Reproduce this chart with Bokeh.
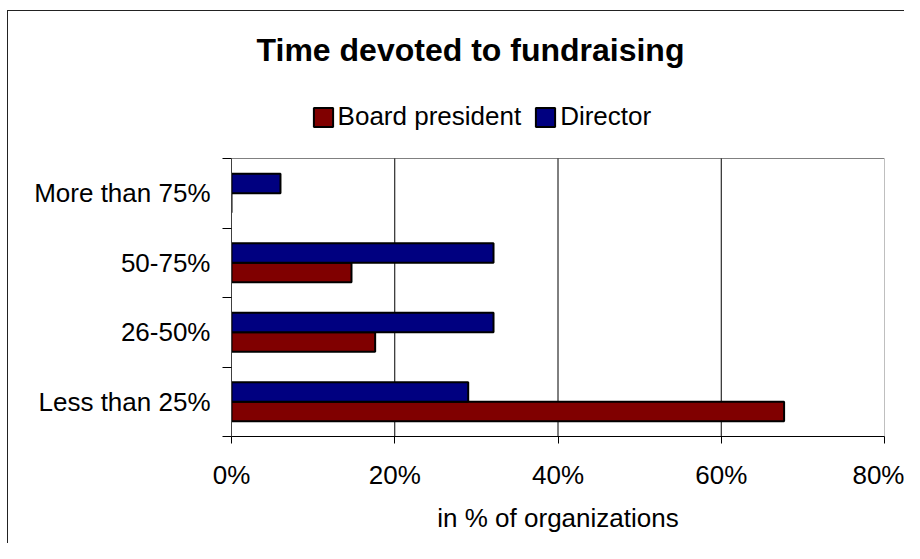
from bokeh.plotting import figure
from bokeh.models import (Range1d, FixedTicker, PrintfTickFormatter, Legend, LegendItem,
                          Label, ColumnDataSource)
from bokeh.embed import file_html
from bokeh.resources import INLINE

# ---- data ----
categories = ["Less than 25%", "26-50%", "50-75%", "More than 75%"]
board_president = [67.7, 17.6, 14.7, 0.0]
director = [29.0, 32.1, 32.1, 6.0]
x_ticks = [0, 20, 40, 60, 80]
series_names = ["Board president", "Director"]
series_colors = ["#800000", "#000080"]
title_text = "Time devoted to fundraising"
x_label = "in % of organizations"

FONT = "Liberation Sans"
W, H = 904, 543
AREA_TOP, AREA_BOTTOM = 158, 436          # pixel rows of the plotting area
n = len(categories)
# the frame extends up to the top of the figure so that title & legend sit inside it
y_top = n * AREA_BOTTOM / (AREA_BOTTOM - AREA_TOP)

p = figure(width=W, height=H, output_backend="svg", toolbar_location=None,
           title_location=None,
           x_range=Range1d(x_ticks[0], x_ticks[-1]), y_range=Range1d(0, y_top),
           min_border_left=231, min_border_right=20, min_border_top=0,
           min_border_bottom=H - AREA_BOTTOM)
p.styles = {"background": "linear-gradient(#222,#222) 7px 10px / 1px 100% no-repeat, "
                          "linear-gradient(#222,#222) 7px 10px / 100% 1px no-repeat, white"}
p.background_fill_alpha = 0
p.border_fill_alpha = 0
p.outline_line_color = None

# plotting-area box and gridlines
p.quad(left=[x_ticks[0]], right=[x_ticks[-1]], bottom=[0], top=[n],
       fill_color=None, line_color="#808080", line_width=1)
p.segment(x0=x_ticks[1:-1], x1=x_ticks[1:-1], y0=0, y1=n, line_color="black", line_width=1)

centers = [i + 0.5 for i in range(n)]
bar_h = 0.28
src = ColumnDataSource(dict(
    yb=[c - bar_h / 2 for c in centers],
    yd=[c + bar_h / 2 for c in centers],
    board=board_president, director=director))

r_board = p.hbar(y="yb", right="board", left=0, height=bar_h, source=src,
                 fill_color=series_colors[0], line_color="black", line_width=2)
r_dir = p.hbar(y="yd", right="director", left=0, height=bar_h, source=src,
               fill_color=series_colors[1], line_color="black", line_width=2)

# axes
p.xaxis.ticker = FixedTicker(ticks=x_ticks)
p.xaxis.formatter = PrintfTickFormatter(format="%d%%")
p.xaxis.major_tick_out = 7
p.xaxis.major_tick_in = 0
p.xaxis.minor_tick_line_color = None
p.xaxis.axis_line_color = "black"
p.xaxis.major_tick_line_color = "black"
p.xaxis.major_label_text_font = FONT
p.xaxis.major_label_text_font_size = "26px"
p.xaxis.major_label_text_color = "black"
p.xaxis.major_label_standoff = 16
p.xaxis.axis_label = x_label
p.xaxis.axis_label_text_font = FONT
p.xaxis.axis_label_text_font_size = "26px"
p.xaxis.axis_label_text_font_style = "normal"
p.xaxis.axis_label_text_color = "black"
p.xaxis.axis_label_standoff = 10

p.yaxis.bounds = (0, n)
p.yaxis.ticker = FixedTicker(ticks=centers, minor_ticks=list(range(n + 1)))
p.yaxis.major_label_overrides = {c: name for c, name in zip(centers, categories)}
p.yaxis.major_tick_out = 0
p.yaxis.major_tick_in = 0
p.yaxis.minor_tick_out = 9
p.yaxis.minor_tick_in = 0
p.yaxis.minor_tick_line_color = "black"
p.yaxis.axis_line_color = "#404040"
p.yaxis.major_label_text_font = FONT
p.yaxis.major_label_text_font_size = "26px"
p.yaxis.major_label_text_color = "black"
p.yaxis.major_label_standoff = 12

p.xgrid.grid_line_color = None
p.ygrid.grid_line_color = None

# title
p.add_layout(Label(x=239, y=AREA_BOTTOM - 49, x_units="screen", y_units="screen",
                   text=title_text, text_align="center",
                   text_baseline="alphabetic", text_font=FONT, text_font_size="32px",
                   text_font_style="bold", text_color="black"))

# legend
legend = Legend(items=[LegendItem(label=series_names[0], renderers=[r_board]),
                       LegendItem(label=series_names[1], renderers=[r_dir])],
                orientation="horizontal", location=(79.6, 304),
                glyph_width=24, glyph_height=24, label_standoff=3, spacing=12,
                padding=0, margin=0, border_line_color=None,
                background_fill_alpha=0,
                label_text_font=FONT, label_text_font_size="26px",
                label_text_color="black")
p.add_layout(legend, "center")

open("out.html", "w").write(file_html(p, INLINE))
